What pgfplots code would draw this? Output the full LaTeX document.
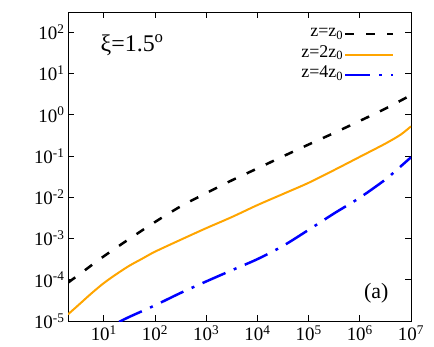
\documentclass[border=0pt]{standalone}
\usepackage{fontspec}
\setmainfont{Liberation Serif}
\usepackage{pgfplots}
\pgfplotsset{compat=1.18}
\definecolor{corange}{RGB}{255,165,0}
\definecolor{cblue}{RGB}{0,0,255}
\newcommand{\tickfont}{\fontsize{19}{20}\selectfont}

\begin{document}
\begin{tikzpicture}
\useasboundingbox (-68bp,-26bp) rectangle (366bp,321bp);
\begin{loglogaxis}[
    at={(0,0)}, anchor=south west,
    scale only axis, width=343bp, height=309bp,
    xmin=2, xmax=1e7, ymin=1e-5, ymax=310,
    log basis x=10, log basis y=10,
    xtickten={1,...,7}, ytickten={-5,...,2},
    tick align=inside,
    major tick length=6bp, minor tick length=3bp,
    every tick/.style={black, line width=0.6bp},
    axis line style={line width=1bp},
    xticklabel={\tickfont 10\textsuperscript{\pgfmathparse{int(round(\tick))}\pgfmathresult}},
    yticklabel={\tickfont 10\textsuperscript{\pgfmathparse{int(round(\tick))}\pgfmathresult}},
    xticklabel style={yshift=-1bp},
    legend style={at={(0.953,0.96)}, anchor=north east, draw=none, fill=none,
        inner sep=0pt, row sep=1.5bp, font=\fontsize{18}{18}\selectfont,
        nodes={inner sep=1bp, text height=11bp, text depth=6bp}},
    legend plot pos=right,
    legend cell align=right,
    legend image code/.code={\draw[#1] (0bp,0bp) -- (48bp,0bp);},
]
% z = z0
\addplot[black, line width=2.5bp, dash pattern=on 9bp off 12bp, smooth] coordinates {
    (2,8.5e-5) (3.16,1.29e-4) (10,3.7e-4) (31.6,9.8e-4) (100,2.51e-3)
    (316,6.0e-3) (1000,1.26e-2) (3162,2.57e-2) (1e4,5.0e-2) (3.16e4,9.8e-2)
    (1e5,0.19) (3.16e5,0.363) (1e6,0.71) (3.16e6,1.41) (1e7,3.0)
};
% z = 2z0
\addplot[corange, line width=2bp, smooth] coordinates {
    (2,1.45e-5) (3.16,2.40e-5) (5.62,4.57e-5) (10,8.3e-5) (17.8,1.38e-4)
    (31.6,2.19e-4) (56.2,3.24e-4) (100,4.79e-4) (316,9.3e-4) (1000,1.78e-3)
    (3162,3.31e-3) (1e4,6.46e-3) (3.16e4,1.20e-2) (1e5,2.24e-2) (3.16e5,4.57e-2)
    (1e6,9.55e-2) (3.16e6,0.200) (6.31e6,0.331) (1e7,0.525)
};
% z = 4z0
\addplot[cblue, line width=2.5bp, dash pattern=on 25bp off 9bp on 3bp off 9bp, smooth] coordinates {
    (20,9.5e-6) (31.6,1.26e-5) (100,2.40e-5) (316,4.79e-5) (1000,9.1e-5)
    (3162,1.70e-4) (1e4,3.16e-4) (3.16e4,6.61e-4) (1e5,1.62e-3) (3.16e5,4.07e-3)
    (1e6,9.77e-3) (3.16e6,2.69e-2) (6.31e6,5.62e-2) (1e7,9.33e-2)
};
\legend{z=z\textsubscript{0}, z=2z\textsubscript{0}, z=4z\textsubscript{0}}
\node[font=\fontsize{24}{26}\selectfont] at (axis description cs:0.187,0.893) {ξ=1.5\textsuperscript{o}};
\node[font=\fontsize{22}{24}\selectfont] at (axis description cs:0.899,0.091) {(a)};
\end{loglogaxis}
\end{tikzpicture}
\end{document}
